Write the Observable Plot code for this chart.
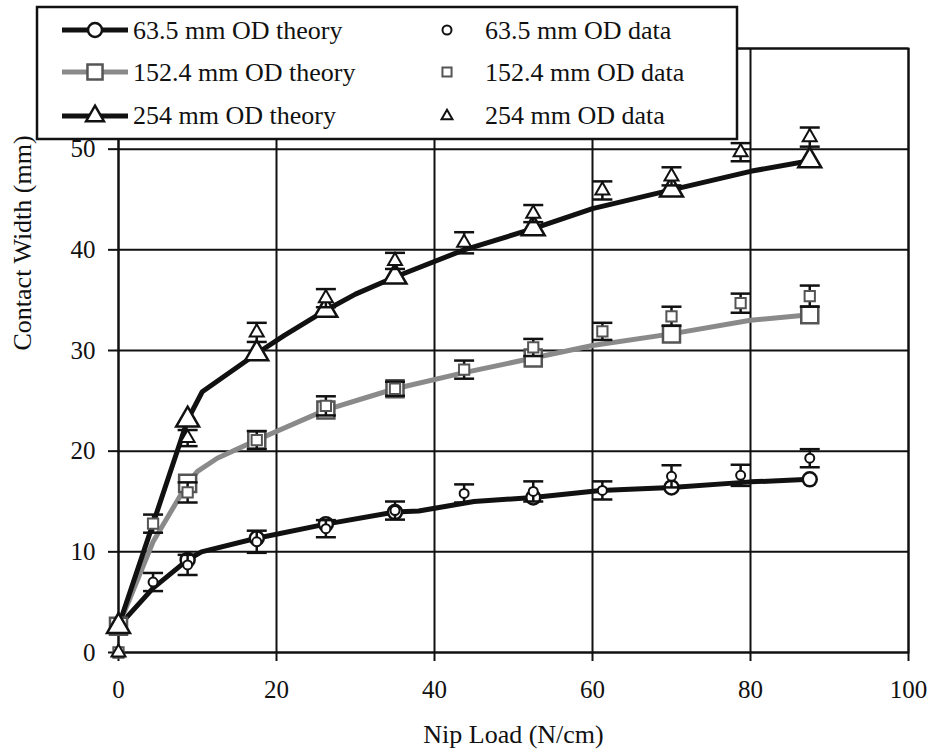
<!DOCTYPE html>
<html><head><meta charset="utf-8">
<script src="https://cdn.jsdelivr.net/npm/d3@7"></script>
<script src="https://cdn.jsdelivr.net/npm/@observablehq/plot@0.6"></script>
<style>
html,body{margin:0;padding:0;background:#fff;}
#wrap{position:relative;width:936px;height:749px;overflow:hidden;}
#wrap svg.legend{position:absolute;left:0;top:0;pointer-events:none;}
</style></head><body><div id="wrap"></div>
<script>
const FONT = "'Liberation Serif','Times New Roman',serif";

const xTicks = [0, 20, 40, 60, 80, 100];
const yTicks = [0, 10, 20, 30, 40, 50, 60];
const seriesNames = ["63.5 mm OD", "152.4 mm OD", "254 mm OD"];
const xTitle = "Nip Load (N/cm)";
const yTitle = "Contact Width (mm)";

// theory curves (line vertices) and the loads where theory markers are shown
const theoryMarkerLoads = [0, 8.75, 17.5, 26.25, 35, 52.5, 70, 87.5];
const theoryLoad635 = [0, 4.375, 8.75, 10.5, 17.5, 26.25, 35, 38, 45, 52.5, 61, 70, 80, 87.5];
const theoryWidth635 = [2.6, 6.4, 9.2, 10.0, 11.35, 12.75, 13.95, 14.05, 15.0, 15.4, 16.1, 16.4, 16.95, 17.2];
const theoryLoad1524 = [0, 4.375, 8.75, 10, 12.5, 17.5, 26.25, 35, 43.75, 52.5, 60, 70, 80, 87.5];
const theoryWidth1524 = [2.6, 11.0, 16.8, 18.0, 19.3, 21.1, 24.1, 26.2, 27.8, 29.25, 30.5, 31.65, 33.0, 33.55];
const theoryLoad254 = [0, 4.375, 8.75, 10.6, 17.5, 21, 26.25, 30, 35, 43.75, 52.5, 60, 70, 80, 87.5];
const theoryWidth254 = [2.6, 12.8, 23.1, 25.9, 29.7, 31.5, 34.0, 35.6, 37.3, 40.0, 42.1, 44.1, 45.95, 47.8, 48.85];

// measured data with error bars
const dataLoad = [0, 4.375, 8.75, 17.5, 26.25, 35, 43.75, 52.5, 61.25, 70, 78.75, 87.5];
const data635 = [0, 7.0, 8.7, 11.0, 12.3, 14.1, 15.8, 16.0, 16.1, 17.5, 17.6, 19.3];
const err635 = [0, 0.9, 1.0, 1.1, 0.85, 0.9, 0.9, 1.0, 0.9, 1.1, 1.05, 0.9];
const data1524 = [0, 12.8, 15.9, 21.1, 24.5, 26.2, 28.1, 30.3, 31.9, 33.4, 34.7, 35.4];
const err1524 = [0, 0.9, 1.0, 0.9, 0.95, 0.7, 0.9, 0.85, 0.85, 0.95, 0.95, 1.05];
const data254 = [0, null, 21.3, 31.8, 35.2, 38.9, 40.7, 43.6, 45.9, 47.3, 49.7, 51.2];
const err254 = [0, null, 0.8, 0.95, 0.9, 0.8, 1.05, 0.85, 0.9, 0.9, 0.9, 0.95];

const theorySets = [[theoryLoad635, theoryWidth635], [theoryLoad1524, theoryWidth1524], [theoryLoad254, theoryWidth254]];
const dataSets = [[data635, err635], [data1524, err1524], [data254, err254]];

const look = [
  {line: "#111", mark: "#111", symbol: "circle", rT: 7, rD: 4.5, d3sym: d3.symbolCircle},
  {line: "#8a8a8a", mark: "#555", symbol: "square", rT: 9.6, rD: 5.8, d3sym: d3.symbolSquare2},
  {line: "#111", mark: "#111", symbol: "triangle", rT: 8.5, rD: 5.2, d3sym: d3.symbolTriangle2}
];

const theoryRows = [];
theorySets.forEach(([xs, ys], i) => xs.forEach((x, j) => theoryRows.push({s: i, load: x, w: ys[j]})));
const theoryMarkRows = theoryRows.filter(d => theoryMarkerLoads.includes(d.load));
const dataRows = [];
dataSets.forEach(([ys, es], i) => dataLoad.forEach((x, j) => {
  if (ys[j] != null) dataRows.push({s: i, load: x, w: ys[j], e: es[j]});
}));
const barRows = dataRows.filter(d => d.e > 0);

const cap = {draw(ctx) { ctx.moveTo(-10, 0); ctx.lineTo(10, 0); }};

const marks = [
  Plot.gridX(xTicks, {stroke: "#111", strokeOpacity: 1, strokeWidth: 2}),
  Plot.gridY(yTicks, {stroke: "#111", strokeOpacity: 1, strokeWidth: 2}),
  Plot.frame({stroke: "#111", strokeWidth: 2}),
  Plot.axisX(xTicks, {tickSize: 9, tickPadding: 19, fontSize: 25, label: null, strokeWidth: 2, tickFormat: d => String(d)}),
  Plot.axisY(yTicks, {tickSize: 10, tickPadding: 13, fontSize: 25, label: null, strokeWidth: 2, tickFormat: d => String(d)}),
  Plot.text([xTitle], {text: d => d, frameAnchor: "bottom", dy: 82, lineAnchor: "middle", fontSize: 26, fill: "#111"}),
  Plot.text([yTitle], {text: d => d, frameAnchor: "left", rotate: -90, dx: -96, lineAnchor: "middle", fontSize: 26, fill: "#111"})
];
look.forEach((L, i) => {
  marks.push(Plot.line(theoryRows.filter(d => d.s === i), {x: "load", y: "w", stroke: L.line, strokeWidth: 5, strokeLinejoin: "round"}));
});
look.forEach((L, i) => {
  marks.push(Plot.dot(theoryMarkRows.filter(d => d.s === i), {x: "load", y: "w", symbol: L.symbol, r: L.rT, fill: "white", stroke: L.mark, strokeWidth: 2.5}));
});
look.forEach((L, i) => {
  const rows = barRows.filter(d => d.s === i);
  marks.push(Plot.ruleX(rows, {x: "load", y1: d => d.w - d.e, y2: d => d.w + d.e, stroke: "#111", strokeWidth: 2.5}));
  marks.push(Plot.dot(rows, {x: "load", y: d => d.w + d.e, symbol: cap, r: 5, fill: "none", stroke: "#111", strokeWidth: 2.5}));
  marks.push(Plot.dot(rows, {x: "load", y: d => d.w - d.e, symbol: cap, r: 5, fill: "none", stroke: "#111", strokeWidth: 2.5}));
  marks.push(Plot.dot(dataRows.filter(d => d.s === i), {x: "load", y: "w", symbol: L.symbol, r: L.rD, fill: "white", stroke: L.mark, strokeWidth: 2}));
});

const chart = Plot.plot({
  width: 936, height: 749,
  marginLeft: 118, marginRight: 28, marginTop: 48, marginBottom: 97,
  x: {domain: [0, 100]},
  y: {domain: [0, 60]},
  style: {fontFamily: FONT, fontSize: "25px", color: "#111", background: "white"},
  marks
});
const wrap = document.getElementById("wrap");
wrap.appendChild(chart);

// legend (overlapping the top of the chart, as in the original)
const lg = d3.select(wrap).append("svg").attr("class", "legend").attr("width", 936).attr("height", 150)
  .style("font-family", FONT).style("font-size", "26px");
lg.append("rect").attr("x", 37).attr("y", 7).attr("width", 700).attr("height", 132)
  .attr("fill", "white").attr("stroke", "#111").attr("stroke-width", 2.5);
const rowY = [30, 72, 116];
const baseY = [38.5, 81, 123.5];
look.forEach((L, i) => {
  lg.append("line").attr("x1", 62).attr("x2", 128).attr("y1", rowY[i]).attr("y2", rowY[i])
    .attr("stroke", L.line).attr("stroke-width", 5);
  lg.append("path").attr("transform", `translate(95,${rowY[i]})`)
    .attr("d", d3.symbol(L.d3sym, Math.PI * L.rT * L.rT)())
    .attr("fill", "white").attr("stroke", L.mark).attr("stroke-width", 2.5);
  lg.append("text").attr("x", 133).attr("y", baseY[i]).attr("fill", "#111").text(seriesNames[i] + " theory");
  lg.append("path").attr("transform", `translate(447,${rowY[i]})`)
    .attr("d", d3.symbol(L.d3sym, Math.PI * L.rD * L.rD)())
    .attr("fill", "white").attr("stroke", L.mark).attr("stroke-width", 2);
  lg.append("text").attr("x", 485).attr("y", baseY[i]).attr("fill", "#111").text(seriesNames[i] + " data");
});
</script></body></html>
